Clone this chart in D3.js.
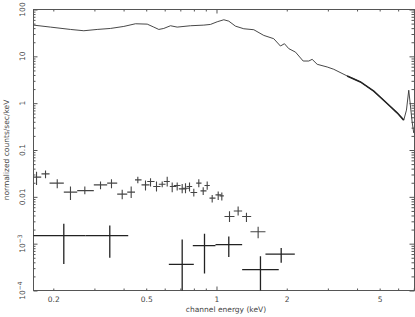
<!DOCTYPE html>
<html>
<head>
<meta charset="utf-8">
<script src="https://cdn.jsdelivr.net/npm/d3@7"></script>
<style>
  body { margin: 0; background: #fff; }
  svg text { font-family: "DejaVu Sans", sans-serif; fill: #444; }
</style>
</head>
<body>
<script>
'use strict';

// model / source spectrum (energy keV, counts/sec/keV)
let srcE = [0.1645, 0.1946, 0.2369, 0.2702, 0.3083, 0.3516, 0.4009, 0.4498, 0.505, 0.5388, 0.5661, 0.5946,
  0.6353, 0.6787, 0.7739, 0.8823, 0.9425, 1.007, 1.075, 1.129, 1.206, 1.309, 1.445, 1.594, 1.759, 1.879,
  1.955, 2.04, 2.18, 2.351, 2.485, 2.569, 2.70, 2.98, 3.18, 3.628, 4.137, 4.718, 5.383, 5.94, 6.341,
  6.512, 6.662, 6.887, 6.998];
let srcF = [46.4, 42.1, 37.5, 35.2, 37.5, 39.4, 43.5, 49.6, 48.7, 42.1, 37.5, 39.4,
  45.0, 42.1, 45.0, 46.4, 48.0, 54.7, 60.4, 56.4, 44.1, 38.8, 37.0, 28.0, 23.8, 16.6,
  18.6, 14.6, 12.3, 7.94, 7.94, 8.63, 6.76, 5.92, 5.29, 3.81, 2.84, 1.80, 0.985, 0.622, 0.435,
  0.71, 1.89, 0.40, 0.23];

// second spectrum, binned with errors
let midE   = [0.1695, 0.1852, 0.2079, 0.2369, 0.2729, 0.3186, 0.355, 0.3946, 0.4311, 0.4603, 0.4965, 0.5217,
  0.5534, 0.5854, 0.615, 0.6461, 0.6787, 0.713, 0.7366, 0.7664, 0.7995, 0.8399, 0.8772, 0.9124, 0.9585,
  1.017, 1.054, 1.137, 1.238, 1.344, 1.508];
let midElo = [0.1634, 0.178, 0.1927, 0.2218, 0.2532, 0.2982, 0.3402, 0.3756, 0.4147, 0.4477, 0.4774, 0.505,
  0.5357, 0.5661, 0.5948, 0.631, 0.6563, 0.6897, 0.713, 0.7439, 0.7739, 0.8186, 0.8541, 0.8885, 0.9333,
  0.9902, 1.030, 1.082, 1.186, 1.288, 1.398];
let midEhi = [0.1775, 0.1927, 0.2218, 0.2532, 0.2982, 0.3402, 0.3756, 0.4147, 0.4477, 0.4774, 0.5165, 0.5427,
  0.5757, 0.6048, 0.631, 0.6741, 0.7012, 0.7439, 0.7686, 0.7868, 0.8266, 0.8626, 0.9062, 0.9361, 0.9902,
  1.047, 1.075, 1.194, 1.288, 1.408, 1.621];
let midF   = [0.0263, 0.0309, 0.0196, 0.0126, 0.0136, 0.0180, 0.0196, 0.0114, 0.0126, 0.0230, 0.0180, 0.0212,
  0.0166, 0.0186, 0.0212, 0.0166, 0.0174, 0.0148, 0.0153, 0.0166, 0.0124, 0.0196, 0.0134, 0.0174, 0.0094,
  0.0110, 0.0105, 0.0038, 0.0050, 0.0038, 0.0018];
let midFlo = [0.0180, 0.0250, 0.0153, 0.0086, 0.0114, 0.0146, 0.0153, 0.0089, 0.0094, 0.0196, 0.0136, 0.0166,
  0.0130, 0.0161, 0.0166, 0.0126, 0.0136, 0.0120, 0.0120, 0.0130, 0.0102, 0.0161, 0.0110, 0.0141, 0.0076,
  0.0086, 0.0083, 0.0029, 0.0040, 0.0029, 0.0013];
let midFhi = [0.0345, 0.0363, 0.0238, 0.0166, 0.0166, 0.0212, 0.0238, 0.0141, 0.0166, 0.0270, 0.0222, 0.0250,
  0.0212, 0.0212, 0.0270, 0.0202, 0.0202, 0.0189, 0.0196, 0.0202, 0.0148, 0.0238, 0.0161, 0.0212, 0.0110,
  0.0130, 0.0124, 0.0049, 0.0062, 0.0046, 0.0023];

// faint spectrum
let lowE   = [0.2218, 0.3491, 0.713, 0.8885, 1.129, 1.543, 1.893];
let lowElo = [0.16, 0.2748, 0.625, 0.7916, 0.9902, 1.288, 1.621];
let lowEhi = [0.2748, 0.4187, 0.7995, 0.9902, 1.288, 1.848, 2.165];
let lowF   = [0.00148, 0.00148, 0.00036, 0.00091, 0.00095, 0.00028, 0.00060];
let lowFlo = [0.00037, 0.00050, 0.00005, 0.00023, 0.00052, 0.00005, 0.00039];
let lowFhi = [0.00266, 0.00245, 0.00122, 0.00163, 0.00143, 0.00054, 0.00081];

// ticks
let xLabelVals = [0.2, 0.5, 1, 2, 5];
let xLabelText = ['0.2', '0.5', '1', '2', '5'];
let xMinor = [0.2, 0.3, 0.4, 0.5, 0.6, 0.7, 0.8, 0.9, 2, 3, 4, 5, 6, 7];
let xMajor = [1];
let yMajor = [1e-4, 1e-3, 0.01, 0.1, 1, 10, 100];
let yLabelBase = ['10', '10', '0.01', '0.1', '1', '10', '100'];
let yLabelExp  = ['\u22124', '\u22123', '', '', '', '', ''];

let svgWidth = 415, svgHeight = 317;
let pLeft = 33.5, pRight = 414.5, pTop = 9.5, pBottom = 290.5;

let xScale = d3.scaleLog().domain([0.1645, 7.05]).range([pLeft, pRight]);
let yScale = d3.scaleLog().domain([1e-4, 100]).range([pBottom, pTop]);

let yMinor = [];
yMajor.slice(0, -1).forEach(d => { for (let k = 2; k <= 9; k++) yMinor.push(d * k); });

let chart = d3.select('body').append('svg')
  .attr('width', svgWidth)
  .attr('height', svgHeight);

chart.append('clipPath').attr('id', 'plotclip')
  .append('rect').attr('x', pLeft).attr('y', pTop).attr('width', pRight - pLeft).attr('height', pBottom - pTop);

let axisColor = '#555';
function styleAxis(g) {
  g.select('.domain').remove();
  g.selectAll('line').attr('stroke', axisColor);
}

// ticks on all four sides, pointing inwards
chart.append('g').attr('transform', `translate(0,${pBottom})`)
  .call(d3.axisBottom(xScale).tickValues(xMinor).tickSize(-2).tickFormat('')).call(styleAxis);
chart.append('g').attr('transform', `translate(0,${pBottom})`)
  .call(d3.axisBottom(xScale).tickValues(xMajor).tickSize(-4).tickFormat('')).call(styleAxis);
chart.append('g').attr('transform', `translate(0,${pTop})`)
  .call(d3.axisTop(xScale).tickValues(xMinor).tickSize(-2).tickFormat('')).call(styleAxis);
chart.append('g').attr('transform', `translate(0,${pTop})`)
  .call(d3.axisTop(xScale).tickValues(xMajor).tickSize(-4).tickFormat('')).call(styleAxis);
chart.append('g').attr('transform', `translate(${pLeft},0)`)
  .call(d3.axisLeft(yScale).tickValues(yMinor).tickSize(-2).tickFormat('')).call(styleAxis);
chart.append('g').attr('transform', `translate(${pLeft},0)`)
  .call(d3.axisLeft(yScale).tickValues(yMajor).tickSize(-4).tickFormat('')).call(styleAxis);
chart.append('g').attr('transform', `translate(${pRight},0)`)
  .call(d3.axisRight(yScale).tickValues(yMinor).tickSize(-3).tickFormat('')).call(styleAxis);
chart.append('g').attr('transform', `translate(${pRight},0)`)
  .call(d3.axisRight(yScale).tickValues(yMajor).tickSize(-5).tickFormat('')).call(styleAxis);

// x tick labels
chart.append('g').attr('transform', `translate(0,${pBottom})`)
  .call(d3.axisBottom(xScale).tickValues(xLabelVals).tickSize(0).tickPadding(6)
    .tickFormat((d, i) => xLabelText[i]))
  .call(g => g.select('.domain').remove())
  .selectAll('text').attr('font-size', 7.5).attr('font-family', null).attr('fill', '#444');

// y tick labels, rotated
let yl = chart.append('g').selectAll('text').data(yMajor).enter().append('text')
  .attr('transform', d => `translate(25,${yScale(d)}) rotate(-90)`)
  .attr('text-anchor', 'middle')
  .attr('font-size', 7.5);
yl.append('tspan').text((d, i) => yLabelBase[i]);
yl.append('tspan').attr('dy', -3).attr('font-size', 6).text((d, i) => yLabelExp[i]);

// frame
chart.append('rect')
  .attr('x', pLeft).attr('y', pTop).attr('width', pRight - pLeft).attr('height', pBottom - pTop)
  .attr('fill', 'none').attr('stroke', axisColor).attr('stroke-width', 1);

// axis titles
chart.append('text').attr('x', 226).attr('y', 312).attr('text-anchor', 'middle')
  .attr('font-size', 7.5).text('channel energy (keV)');
chart.append('text').attr('transform', `translate(9,${(pTop + pBottom) / 2}) rotate(-90)`)
  .attr('text-anchor', 'middle').attr('font-size', 7.5).text('normalized counts/sec/keV');

let plot = chart.append('g').attr('clip-path', 'url(#plotclip)');

// bright spectrum as a line
let src = srcE.map((e, i) => [e, srcF[i]]);
let lineGen = d3.line().x(d => xScale(d[0])).y(d => yScale(d[1]));
plot.append('path').datum(src).attr('fill', 'none').attr('stroke', '#333').attr('stroke-width', 0.9).attr('d', lineGen);
plot.append('path').datum(src.filter(d => d[0] > 3.5 && d[0] < 6.4)).attr('fill', 'none')
  .attr('stroke', '#222').attr('stroke-width', 1.6).attr('d', lineGen);

// crosses: horizontal bin width, vertical error
function crosses(E, Elo, Ehi, F, Flo, Fhi, color, width) {
  let idx = d3.range(E.length);
  let g = plot.append('g').attr('stroke', color).attr('stroke-width', width);
  g.selectAll('.h').data(idx).enter().append('line').attr('class', 'h')
    .attr('x1', i => xScale(Elo[i])).attr('x2', i => xScale(Ehi[i]))
    .attr('y1', i => yScale(F[i])).attr('y2', i => yScale(F[i]));
  g.selectAll('.v').data(idx).enter().append('line').attr('class', 'v')
    .attr('x1', i => xScale(E[i])).attr('x2', i => xScale(E[i]))
    .attr('y1', i => yScale(Flo[i])).attr('y2', i => yScale(Fhi[i]));
}
crosses(midE, midElo, midEhi, midF, midFlo, midFhi, '#444', 1.1);
crosses(lowE, lowElo, lowEhi, lowF, lowFlo, lowFhi, '#222', 1.3);
</script>
</body>
</html>
